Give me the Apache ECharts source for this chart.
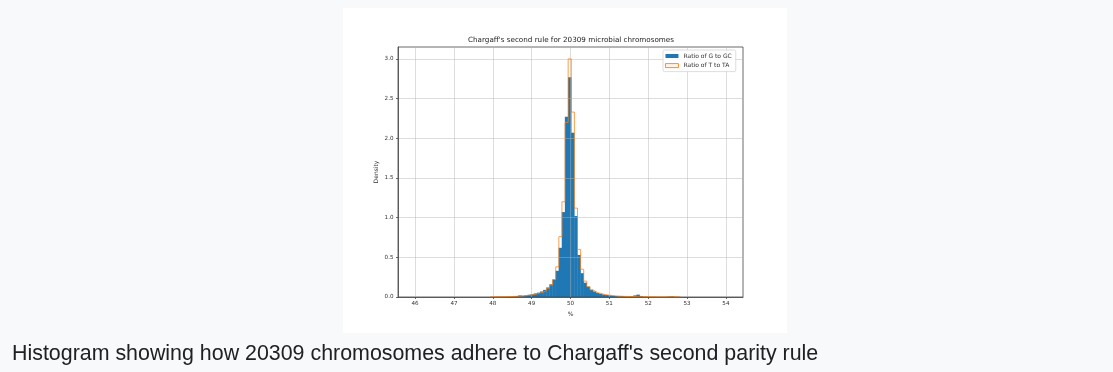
<!DOCTYPE html>
<html><head><meta charset="utf-8">
<script src="https://cdn.jsdelivr.net/npm/echarts@6/dist/echarts.min.js"></script>
<style>html,body{margin:0;padding:0;background:#f8f9fa;overflow:hidden;} #c{width:1113px;height:372px;}</style>
</head><body><div id="c"></div>
<script>
const titleText = "Chargaff's second rule for 20309 microbial chromosomes";
const captionText = "Histogram showing how 20309 chromosomes adhere to Chargaff's second parity rule";
const seriesNames = ["Ratio of G to GC", "Ratio of T to TA"];
const xTicks = [46, 47, 48, 49, 50, 51, 52, 53, 54];
const yTicks = [0, 0.5, 1, 1.5, 2, 2.5, 3];
const binStart = 47.94;
const binWidth = 0.08;
const gcDensity = [
  0.003, 0.003, 0.004, 0.004, 0.005, 0.006, 0.008, 0.010, 0.012, 0.020,
  0.016, 0.022, 0.028, 0.035, 0.045, 0.055, 0.070, 0.090, 0.120, 0.160,
  0.220, 0.330, 0.620, 1.070, 2.270, 2.770, 2.070, 1.020, 0.530, 0.300,
  0.180, 0.130, 0.090, 0.070, 0.050, 0.040, 0.030, 0.025, 0.020, 0.015,
  0.012, 0.010, 0.012, 0.008, 0.008, 0.010, 0.020, 0.030, 0.012, 0.005,
  0.004, 0.003, 0.003, 0.002, 0.002, 0.002, 0.002, 0.006, 0.008, 0.003,
  0.002
];
const taDensity = [
  0.002, 0.002, 0.003, 0.003, 0.004, 0.005, 0.006, 0.008, 0.010, 0.012,
  0.015, 0.020, 0.025, 0.030, 0.040, 0.050, 0.060, 0.080, 0.110, 0.150,
  0.220, 0.380, 0.760, 1.200, 2.200, 3.000, 2.330, 1.120, 0.600, 0.350,
  0.200, 0.130, 0.090, 0.065, 0.050, 0.040, 0.030, 0.025, 0.020, 0.015,
  0.012, 0.010, 0.008, 0.007, 0.006, 0.006, 0.008, 0.010, 0.006, 0.004,
  0.003, 0.003, 0.002, 0.002, 0.002, 0.002, 0.002, 0.003, 0.003, 0.002,
  0.002
];

const gcBins = gcDensity.map((h, i) => [binStart + i * binWidth, binStart + (i + 1) * binWidth, h]);
const taStep = [[binStart, 0]]
  .concat(taDensity.map((h, i) => [binStart + (i + 1) * binWidth, h]))
  .concat([[binStart + taDensity.length * binWidth, 0]]);

const tickFont = 'DejaVu Sans';
const chart = echarts.init(document.getElementById('c'), null, {renderer: 'canvas'});
chart.setOption({
  animation: false,
  backgroundColor: 'transparent',
  graphic: [
    {type: 'rect', z: -10, shape: {x: 343, y: 8, width: 444, height: 325}, style: {fill: '#ffffff'}},
    {type: 'text', z: 10, x: 12, y: 354, style: {text: captionText, fill: '#202122',
      font: '21.4px "Liberation Sans", Arial, sans-serif', textAlign: 'left', textVerticalAlign: 'middle'}}
  ],
  title: {
    text: titleText, left: 571, top: 37, textAlign: 'center', padding: 0,
    textStyle: {fontSize: 7.2, fontWeight: 'normal', color: '#222', fontFamily: tickFont}
  },
  legend: {
    orient: 'vertical', left: 663, top: 50, itemWidth: 13, itemHeight: 4, itemGap: 3.6,
    padding: [3, 4, 3, 2], backgroundColor: 'rgba(255,255,255,0.85)', borderColor: '#d4d4d4',
    borderWidth: 0.8, borderRadius: 1.5,
    textStyle: {fontSize: 6, lineHeight: 6, color: '#333', fontFamily: tickFont},
    data: [
      {name: seriesNames[0], icon: 'rect', itemStyle: {color: '#1f77b4', borderWidth: 0}},
      {name: seriesNames[1], icon: 'rect', itemStyle: {color: '#fff4ea', borderColor: '#ff7f0e', borderWidth: 0.9}}
    ]
  },
  grid: {left: 398, right: 370, top: 47, bottom: 75, show: true, borderColor: '#444', borderWidth: 0.8, z: 2},
  xAxis: {
    type: 'value', min: 45.56, max: 54.44, z: 2,
    name: '%', nameLocation: 'middle', nameGap: 14,
    nameTextStyle: {fontSize: 6, color: '#333', fontFamily: tickFont},
    axisLine: {show: true, lineStyle: {color: '#444', width: 0.8}},
    axisTick: {show: true, customValues: xTicks, length: 2, lineStyle: {color: '#444', width: 0.8}},
    axisLabel: {customValues: xTicks, margin: 4, fontSize: 5.6, color: '#333', fontFamily: tickFont,
      formatter: v => String(v)},
    splitLine: {show: true, lineStyle: {color: 'rgba(176,176,176,0.55)', width: 0.8}}
  },
  yAxis: {
    type: 'value', min: 0, max: 3.15, z: 2,
    name: 'Density', nameLocation: 'middle', nameGap: 18.5,
    nameTextStyle: {fontSize: 6, color: '#333', fontFamily: tickFont},
    axisLine: {show: true, lineStyle: {color: '#444', width: 0.8}},
    axisTick: {show: true, customValues: yTicks, length: 2, lineStyle: {color: '#444', width: 0.8}},
    axisLabel: {customValues: yTicks, margin: 4.5, fontSize: 5.6, color: '#333', fontFamily: tickFont,
      formatter: v => v.toFixed(1)},
    splitLine: {show: true, lineStyle: {color: 'rgba(176,176,176,0.55)', width: 0.8}}
  },
  series: [
    {
      name: seriesNames[0], type: 'custom', z: 1, data: gcBins,
      encode: {x: [0, 1], y: 2},
      itemStyle: {color: '#1f77b4'},
      renderItem: function (params, api) {
        const p0 = api.coord([api.value(0), api.value(2)]);
        const p1 = api.coord([api.value(1), 0]);
        return {type: 'rect', shape: {x: p0[0] - 0.2, y: p0[1], width: p1[0] - p0[0] + 0.4, height: p1[1] - p0[1]},
          style: {fill: '#1f77b4'}};
      }
    },
    {
      name: seriesNames[1], type: 'line', z: 3, step: 'start', data: taStep,
      symbol: 'none', showSymbol: false,
      itemStyle: {color: '#ff7f0e'},
      lineStyle: {color: '#ff7f0e', width: 0.9, opacity: 0.85}
    }
  ]
});
</script>
</body></html>
